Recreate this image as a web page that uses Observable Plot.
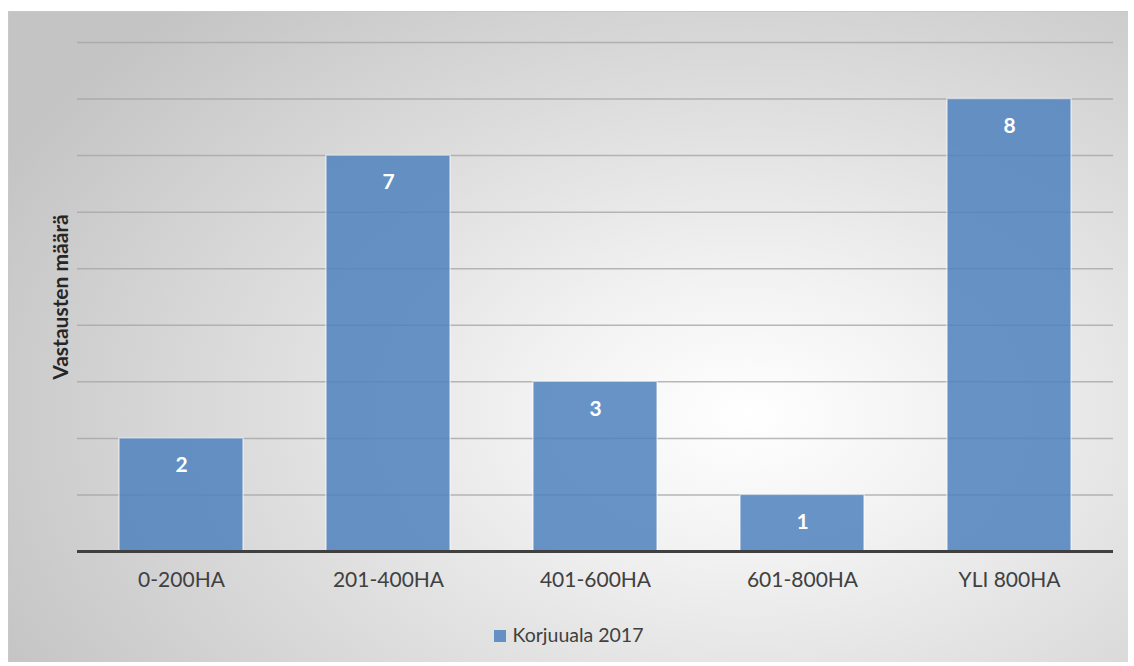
<!DOCTYPE html>
<html>
<head>
<meta charset="utf-8">
<script src="https://cdn.jsdelivr.net/npm/d3@7"></script>
<script src="https://cdn.jsdelivr.net/npm/@observablehq/plot@0.6"></script>
<style>
  html, body { margin: 0; padding: 0; background: #fff; }
  #frame {
    position: absolute; left: 8px; top: 11px; width: 1119px; height: 650px;
    border-top: 1px solid #c8c8c8; border-left: 1px solid #c8c8c8;
    background: radial-gradient(ellipse 75% 85% at 66% 62%, #ffffff 0%, #f2f2f2 25%, #dcdcdc 60%, #c4c4c4 100%);
    font-family: Lato, "Open Sans", sans-serif;
  }
  #chart { position: absolute; left: 0; top: 0; }
  #legend { position: absolute; left: 0; width: 1119px; top: 611px; line-height: 24px; text-align: center; font-size: 19.5px; color: #404040; }
  #legend .sw { display: inline-block; width: 12px; height: 12px; background: #6690c4; margin-right: 7px; vertical-align: 0px; }
</style>
</head>
<body>
<div id="frame">
  <div id="chart"></div>
  <div id="legend"><span class="sw"></span>Korjuuala 2017</div>
</div>
<script>
const categories = ["0-200HA", "201-400HA", "401-600HA", "601-800HA", "YLI 800HA"];
const values = [2, 7, 3, 1, 8];
const seriesName = "Korjuuala 2017";
const yLabel = "Vastausten määrä";
const gridTicks = [1, 2, 3, 4, 5, 6, 7, 8, 9];

const data = categories.map((c, i) => ({category: c, value: values[i]}));

const chart = Plot.plot({
  width: 1119,
  height: 580,
  marginLeft: 68,
  marginRight: 15,
  marginTop: 30,
  marginBottom: 41,
  style: {background: "transparent", fontFamily: "Lato, 'Open Sans', sans-serif", fontSize: "21px", color: "#404040", overflow: "visible"},
  x: {domain: categories, paddingInner: 0.4, paddingOuter: 0.2, label: null, tickSize: 0, tickPadding: 21},
  y: {domain: [0, 9], label: null, axis: null},
  marks: [
    Plot.ruleY(gridTicks, {stroke: "#a6a6a6", strokeWidth: 1.5, strokeOpacity: 0.8}),
    Plot.barY(data, {x: "category", y: "value", fill: "#4f81bd", fillOpacity: 0.85, stroke: "#ffffff", strokeOpacity: 0.55, strokeWidth: 1.5}),
    Plot.text(data, {x: "category", y: "value", text: d => String(d.value), dy: 27, fill: "white", fontWeight: "bold", fontSize: 21}),
    Plot.ruleY([0], {stroke: "#404040", strokeWidth: 3}),
    Plot.text([yLabel], {frameAnchor: "left", textAnchor: "middle", dx: -16, rotate: -90, text: d => d, fontWeight: "bold", fontSize: 21, fill: "#262626"})
  ]
});
document.getElementById("chart").appendChild(chart);
</script>
</body>
</html>
